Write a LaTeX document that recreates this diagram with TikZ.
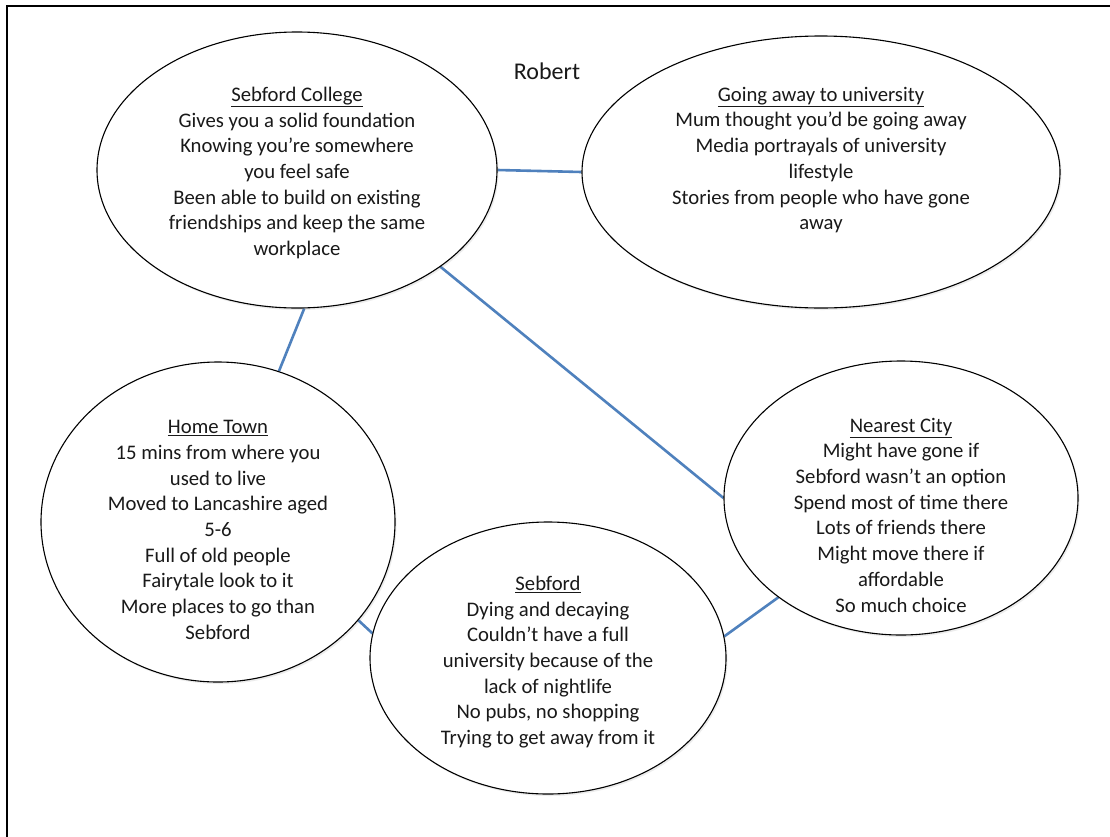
\documentclass[tikz,border=0pt]{standalone}
\usepackage{fontspec}
\setmainfont{Carlito}
\usetikzlibrary{shapes.geometric,shadows,backgrounds}
\definecolor{linkblue}{RGB}{79,129,189}
\newcommand{\ttlline}[1]{\underline{#1}}
\begin{document}
\begin{tikzpicture}[x=1pt,y=-1pt,
  bubble/.style={ellipse,draw=black,line width=1.1pt,fill=white,inner sep=0pt,
    drop shadow={opacity=0.15,shadow xshift=1.5pt,shadow yshift=-2pt}},
  body/.style={align=center,font=\fontsize{20.7}{25.7}\selectfont,inner sep=0pt,text=black!90},
  link/.style={draw=linkblue,line width=2.6pt}]
\useasboundingbox (0,0) rectangle (1110,836);
\clip (0,0) rectangle (1110,836);
\begin{scope}[on background layer]
\fill[white] (0,0) rectangle (1110,836);
\end{scope}
\draw[line width=2.2pt] (7,850) -- (7,6) -- (1125,6);

% ellipses
\node[bubble,minimum width=400pt,minimum height=276pt] (college) at (297,170) {};
\node[bubble,minimum width=478pt,minimum height=272pt] (going) at (821,172) {};
\node[bubble,minimum width=354pt,minimum height=320pt] (home) at (218,522) {};
\node[bubble,minimum width=356pt,minimum height=272pt] (sebford) at (548,658) {};
\node[bubble,minimum width=354pt,minimum height=274pt] (city) at (901,498) {};

% connectors
\begin{scope}[on background layer]
\draw[link] (college.0) -- (going.180);
\draw[link] (college.-87) -- (home.68);
\draw[link] (college.-34.4) -- (city.180);
\draw[link] (home.-35.8) -- (sebford.172.5);
\draw[link] (sebford.7.4) -- (city.-141);
\end{scope}

% texts
\node[body,font=\fontsize{24}{28}\selectfont] (robert) at (547,71) {Robert};
\node[body] (collegetxt) at (297,173) {\ttlline{Sebford College}\\Gives you a solid foundation\\Knowing you’re somewhere\\you feel safe\\Been able to build on existing\\friendships and keep the same\\workplace};
\node[body] (goingtxt) at (821,160) {\ttlline{Going away to university}\\Mum thought you’d be going away\\Media portrayals of university\\lifestyle\\Stories from people who have gone\\away};
\node[body] (hometxt) at (218,530) {\ttlline{Home Town}\\15 mins from where you\\used to live\\Moved to Lancashire aged\\5-6\\Full of old people\\Fairytale look to it\\More places to go than\\Sebford};
\node[body] (sebtxt) at (548,662) {\ttlline{Sebford}\\Dying and decaying\\Couldn’t have a full\\university because of the\\lack of nightlife\\No pubs, no shopping\\Trying to get away from it};
\node[body] (citytxt) at (901,515) {\ttlline{Nearest City}\\Might have gone if\\Sebford wasn’t an option\\Spend most of time there\\Lots of friends there\\Might move there if\\affordable\\So much choice};
\end{tikzpicture}
\end{document}
